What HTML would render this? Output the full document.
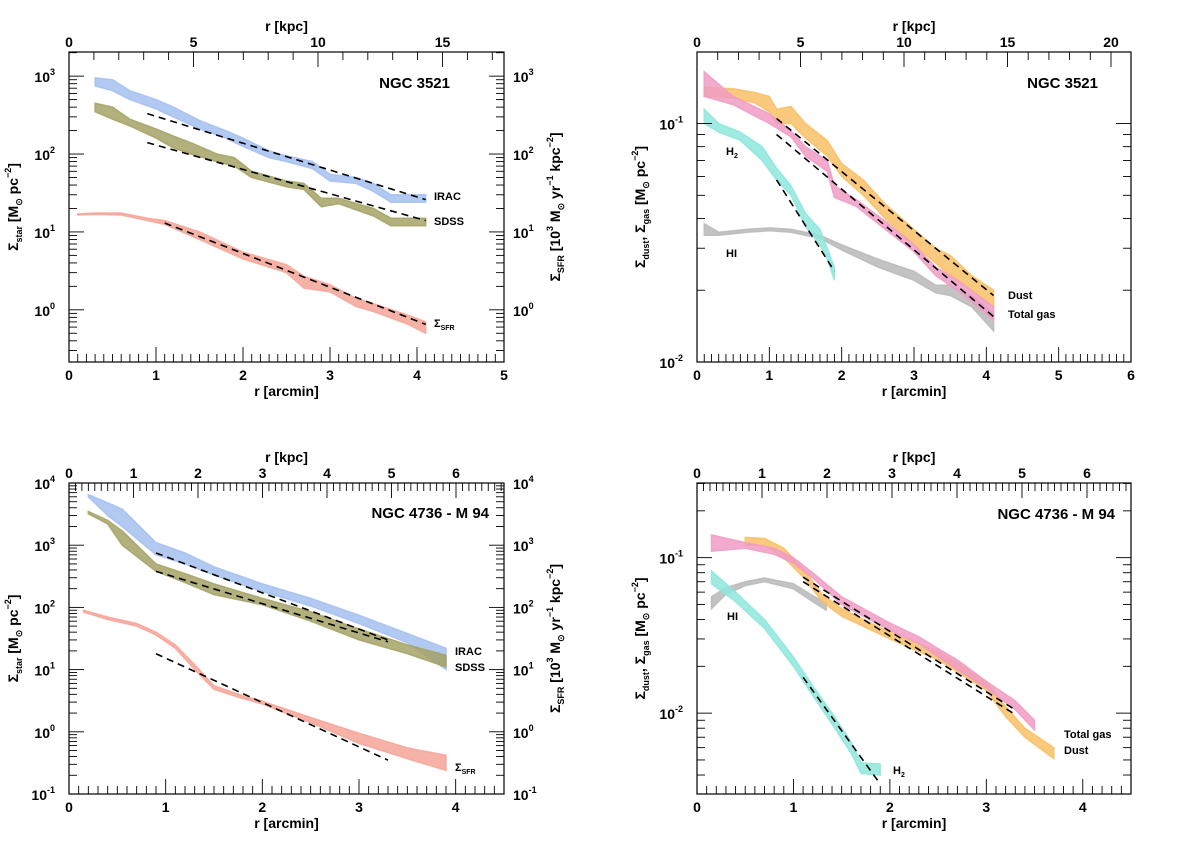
<!DOCTYPE html>
<html><head><meta charset="utf-8"><style>body{margin:0;background:#fff}svg{display:block;font-family:"Liberation Sans",sans-serif;font-weight:bold}</style></head>
<body>
<svg id="c" width="1200" height="844" viewBox="0 0 1200 844"></svg>
<script>
// ---- Panel data (r in arcmin, [upper, lower]) ----
const p1IracR=[0.3,0.5,0.7,1.0,1.2,1.5,1.8,2.0,2.3,2.5,2.8,3.0,3.3,3.5,3.7,4.1];
const p1IracHi=[950,900,650,500,400,270,200,160,110,95,80,55,50,42,30,30];
const p1IracLo=[750,650,500,380,300,210,160,125,90,80,65,45,42,33,24,24];
const p1SdssR=[0.3,0.5,0.7,1.0,1.2,1.4,1.7,1.9,2.1,2.5,2.7,2.9,3.1,3.5,3.7,4.1];
const p1SdssHi=[450,400,280,210,170,140,100,90,60,45,42,27,27,20,15,15];
const p1SdssLo=[350,280,230,160,120,100,80,70,50,38,35,21,23,16,12,12];
const p1SfrR=[0.1,0.3,0.6,0.9,1.1,1.5,2.0,2.5,2.7,3.0,3.3,3.5,3.9,4.1];
const p1SfrHi=[17,17.5,17.5,15,14,10,5.5,3.8,2.7,2.1,1.4,1.2,0.85,0.7];
const p1SfrLo=[16.5,16.8,16.5,14,12.5,8,4.5,3,1.9,1.7,1.1,0.95,0.65,0.5];
const p1Fits=[[0.9,330,4.1,26],[0.9,140,4.1,14],[1.1,13,4.1,0.65]];

const p2DustR=[0.1,0.5,0.8,1.0,1.1,1.3,1.5,1.8,2.0,2.3,2.6,3.0,3.3,3.5,3.8,4.1];
const p2DustHi=[0.142,0.14,0.135,0.13,0.115,0.118,0.1,0.085,0.068,0.058,0.046,0.036,0.03,0.028,0.023,0.02];
const p2DustLo=[0.13,0.128,0.122,0.112,0.1,0.1,0.087,0.073,0.06,0.05,0.04,0.031,0.026,0.023,0.02,0.017];
const p2GasR=[0.1,0.5,1.0,1.3,1.5,1.8,1.9,2.2,2.6,3.0,3.3,3.6,4.1];
const p2GasHi=[0.165,0.13,0.11,0.093,0.08,0.07,0.055,0.048,0.039,0.031,0.025,0.022,0.017];
const p2GasLo=[0.13,0.12,0.1,0.088,0.073,0.063,0.049,0.045,0.036,0.029,0.023,0.02,0.015];
const p2H2R=[0.1,0.3,0.6,0.9,1.1,1.3,1.5,1.7,1.8,1.9];
const p2H2Hi=[0.115,0.1,0.092,0.08,0.065,0.055,0.042,0.036,0.03,0.025];
const p2H2Lo=[0.1,0.092,0.085,0.07,0.058,0.05,0.037,0.031,0.027,0.022];
const p2HIR=[0.1,0.3,0.7,1.0,1.3,1.7,2.0,2.5,3.0,3.3,3.5,3.8,4.1];
const p2HIHi=[0.038,0.035,0.036,0.0365,0.036,0.034,0.031,0.027,0.024,0.021,0.021,0.019,0.016];
const p2HILo=[0.034,0.034,0.035,0.0355,0.035,0.033,0.0295,0.025,0.022,0.0195,0.019,0.017,0.0135];
const p2Fits=[[1.1,0.105,4.1,0.019],[1.1,0.09,4.1,0.0155],[1.1,0.058,1.9,0.024]];

const p3IracR=[0.2,0.4,0.55,0.9,1.2,1.5,2.0,2.5,3.0,3.5,3.9];
const p3IracHi=[6500,4800,3800,1100,750,450,240,140,75,38,22];
const p3IracLo=[6000,3000,2000,700,500,330,180,105,55,27,10];
const p3SdssR=[0.2,0.4,0.55,0.9,1.2,1.5,2.0,2.5,3.0,3.5,3.9];
const p3SdssHi=[3500,2500,1700,500,350,240,140,85,45,25,17];
const p3SdssLo=[3200,2200,1000,380,250,160,110,60,30,18,11];
const p3SfrR=[0.15,0.4,0.7,0.9,1.1,1.3,1.5,1.8,2.0,2.5,3.0,3.5,3.9];
const p3SfrHi=[90,70,55,40,25,12,5.5,3.8,3.1,1.7,0.95,0.55,0.42];
const p3SfrLo=[84,64,50,36,22,10,4.8,3.4,2.8,1.4,0.65,0.37,0.24];
const p3Fits=[[0.9,750,3.3,30],[0.9,380,3.3,28],[0.9,18,3.3,0.35]];

const p4GasR=[0.15,0.5,0.8,1.0,1.2,1.5,2.0,2.3,2.5,2.7,3.0,3.3,3.5];
const p4GasHi=[0.14,0.125,0.115,0.1,0.08,0.056,0.038,0.031,0.026,0.022,0.016,0.012,0.009];
const p4GasLo=[0.11,0.115,0.105,0.092,0.074,0.05,0.034,0.028,0.023,0.019,0.0145,0.0105,0.0078];
const p4DustR=[0.5,0.7,0.9,1.1,1.3,1.5,2.0,2.5,3.0,3.2,3.4,3.7];
const p4DustHi=[0.135,0.133,0.115,0.085,0.058,0.047,0.033,0.025,0.016,0.011,0.008,0.006];
const p4DustLo=[0.12,0.12,0.1,0.075,0.052,0.042,0.03,0.022,0.014,0.0095,0.007,0.0051];
const p4HIR=[0.15,0.3,0.5,0.7,1.0,1.2,1.34];
const p4HIHi=[0.056,0.064,0.07,0.074,0.068,0.057,0.051];
const p4HILo=[0.047,0.058,0.066,0.07,0.063,0.052,0.046];
const p4H2R=[0.15,0.4,0.7,1.0,1.2,1.4,1.6,1.7,1.9];
const p4H2Hi=[0.082,0.06,0.04,0.023,0.015,0.01,0.0065,0.0048,0.0047];
const p4H2Lo=[0.068,0.052,0.035,0.02,0.013,0.0085,0.0055,0.0041,0.004];
const p4Fits=[[1.1,0.075,3.3,0.0105],[1.1,0.07,3.3,0.0098],[1.1,0.017,1.9,0.0035]];

const NS="http://www.w3.org/2000/svg";
const svg=document.getElementById('c');
function el(tag,attrs,parent,txt){const e=document.createElementNS(NS,tag);for(const k in attrs)e.setAttribute(k,attrs[k]);if(txt!==undefined)e.textContent=txt;(parent||svg).appendChild(e);return e;}
function mkPanel(o){
  const g=el('g',{});
  
  
  const X=v=>o.x0+(v-o.xmin)/(o.xmax-o.xmin)*(o.x1-o.x0);
  const Y=v=>o.yTop+(o.lmax-Math.log10(v))/(o.lmax-o.lmin)*(o.yBot-o.yTop);
  o.X=X;o.Y=Y;o.g=g;return o;
}
function band(p,R,H,L,col,name){
  let d='M'+R.map((r,i)=>p.X(r).toFixed(1)+','+p.Y(H[i]).toFixed(1)).join('L');
  for(let i=R.length-1;i>=0;i--)d+='L'+p.X(R[i]).toFixed(1)+','+p.Y(L[i]).toFixed(1);
  const e=el('path',{d:d+'Z',fill:col,'fill-opacity':0.85,stroke:col,'stroke-width':1.5,'stroke-opacity':0.85},p.g);
  
  
}
function fits(p,F){F.forEach((f,i)=>{const e=el('line',{x1:p.X(f[0]),y1:p.Y(f[1]),x2:p.X(f[2]),y2:p.Y(f[3]),stroke:'#000','stroke-width':1.6,'stroke-dasharray':'7,5'},p.g);
  
  });}
function axes(p){
  const g=p.g;
  el('rect',{x:p.x0,y:p.yTop,width:p.x1-p.x0,height:p.yBot-p.yTop,fill:'none',stroke:'#000','stroke-width':1.2},g);
  for(let i=0;;i++){const v=p.xmin+i*0.1;if(v>p.xmax+1e-9)break;const x=p.X(v);const maj=Math.abs(v-Math.round(v))<1e-6;
    el('line',{x1:x,y1:p.yBot,x2:x,y2:p.yBot-(maj?15:8),stroke:'#000','stroke-width':0.9},g);
    if(maj)el('text',{x:x,y:p.yBot+18,'font-size':14,'text-anchor':'middle'},g,Math.round(v));}
  const xl=el('text',{x:(p.x0+p.x1)/2,y:p.yBot+34,'font-size':14,'text-anchor':'middle'},g,'r [arcmin]');
  
  
  const kx=v=>p.x0+v*p.kpx;
  for(let i=0;;i++){const k=i*p.kminor;const x=kx(k);if(x>p.x1+0.5)break;const maj=Math.abs(k/p.kmajor-Math.round(k/p.kmajor))<1e-6;
    el('line',{x1:x,y1:p.yTop,x2:x,y2:p.yTop+(maj?15:8),stroke:'#000','stroke-width':0.9},g);
    if(maj)el('text',{x:x,y:p.yTop-5,'font-size':14,'text-anchor':'middle'},g,Math.round(k));}
  const tl=el('text',{x:(p.x0+p.x1)/2,y:p.yTop-21,'font-size':14,'text-anchor':'middle'},g,'r [kpc]');
  
  
  for(let d=Math.floor(p.lmin);d<=Math.ceil(p.lmax);d++){for(let m=1;m<10;m++){const v=m*Math.pow(10,d);const l=Math.log10(v);if(l<p.lmin-1e-6||l>p.lmax+1e-6)continue;const y=p.Y(v);const L=m==1?15:8;
    el('line',{x1:p.x0,y1:y,x2:p.x0+L,y2:y,stroke:'#000','stroke-width':0.9},g);
    el('line',{x1:p.x1,y1:y,x2:p.x1-L,y2:y,stroke:'#000','stroke-width':0.9},g);
    if(m==1){const t=el('text',{x:p.x0-14,y:y+6,'font-size':14,'text-anchor':'end'},g);el('tspan',{},t,'10');el('tspan',{'font-size':9,dy:-7},t,String(d));
      if(p.right){const t2=el('text',{x:p.x1+9,y:y+6,'font-size':14},g);el('tspan',{},t2,'10');el('tspan',{'font-size':9,dy:-7},t2,String(d));}}}}
  const tt=el('text',{x:p.tx,y:p.ty,'font-size':15,'text-anchor':'end'},g,p.title);
  
  
}
function ylab(p,x,parts,name){const t=el('text',{transform:`translate(${x},${(p.yTop+p.yBot)/2}) rotate(-90)`,'font-size':14,'text-anchor':'middle'},p.g);
  
  
  parts.forEach(q=>{el('tspan',q[1]||{},t,q[0]);});}
function lab(p,x,y,txt,name,sub){const t=el('text',{x:x,y:y,'font-size':11},p.g,txt);if(sub)el('tspan',{'font-size':7,dy:3},t,sub);
  
  }
const SIG='\u03A3';
const ystar=[[SIG],['star',{'font-size':9,dy:4}],[' [M',{dy:-4}],['\u2299',{'font-size':9,dy:4}],[' pc',{dy:-4}],['\u22122',{'font-size':9,dy:-7}],[']',{dy:7}]];
const ysfr=[[SIG],['SFR',{'font-size':9,dy:4}],[' [10',{dy:-4}],['3',{'font-size':9,dy:-7}],[' M',{dy:7}],['\u2299',{'font-size':9,dy:4}],[' yr',{dy:-4}],['\u22121',{'font-size':9,dy:-7}],[' kpc',{dy:7}],['\u22122',{'font-size':9,dy:-7}],[']',{dy:7}]];
const ygas=[[SIG],['dust',{'font-size':9,dy:4}],[', ',{dy:-4}],[SIG],['gas',{'font-size':9,dy:4}],[' [M',{dy:-4}],['\u2299',{'font-size':9,dy:4}],[' pc',{dy:-4}],['\u22122',{'font-size':9,dy:-7}],[']',{dy:7}]];
const C={irac:'#a4c0ee',sdss:'#a4a265',sfr:'#f6a498',dust:'#f8c066',gas:'#f09cc4',h2:'#8ee6dc',hi:'#b8b8b8'};

const p1=mkPanel({name:'panel-ngc3521-stars',x0:69,x1:504,yTop:52,yBot:362,xmin:0,xmax:5,lmin:-0.67,lmax:3.31,kpx:24.9,kminor:1,kmajor:5,right:true,title:'NGC 3521',tx:450,ty:88});
band(p1,p1SfrR,p1SfrHi,p1SfrLo,C.sfr,'sfr-band');band(p1,p1SdssR,p1SdssHi,p1SdssLo,C.sdss,'sdss-band');band(p1,p1IracR,p1IracHi,p1IracLo,C.irac,'irac-band');
fits(p1,p1Fits);axes(p1);ylab(p1,18,ystar,'y-axis-title');ylab(p1,560,ysfr,'y2-axis-title');
lab(p1,434,200,'IRAC','label-irac');lab(p1,434,225,'SDSS','label-sdss');lab(p1,434,327,SIG,'label-sfr','SFR');

const p2=mkPanel({name:'panel-ngc3521-gas',x0:697,x1:1131,yTop:52,yBot:362,xmin:0,xmax:6,lmin:-2,lmax:-0.70,kpx:20.7,kminor:1,kmajor:5,right:false,title:'NGC 3521',tx:1098,ty:88});
band(p2,p2HIR,p2HIHi,p2HILo,C.hi,'hi-band');band(p2,p2H2R,p2H2Hi,p2H2Lo,C.h2,'h2-band');band(p2,p2DustR,p2DustHi,p2DustLo,C.dust,'dust-band');band(p2,p2GasR,p2GasHi,p2GasLo,C.gas,'gas-band');
fits(p2,p2Fits);axes(p2);ylab(p2,645,ygas,'y-axis-title');
lab(p2,726,155,'H','label-h2','2');lab(p2,726,257,'HI','label-hi');lab(p2,1008,299,'Dust','label-dust');lab(p2,1008,318,'Total gas','label-total-gas');

const p3=mkPanel({name:'panel-m94-stars',x0:69,x1:504,yTop:483,yBot:794,xmin:0,xmax:4.5,lmin:-1,lmax:4,kpx:64.5,kminor:0.1,kmajor:1,right:true,title:'NGC 4736 - M 94',tx:489,ty:518});
band(p3,p3SfrR,p3SfrHi,p3SfrLo,C.sfr,'sfr-band');band(p3,p3IracR,p3IracHi,p3IracLo,C.irac,'irac-band');band(p3,p3SdssR,p3SdssHi,p3SdssLo,C.sdss,'sdss-band');
fits(p3,p3Fits);axes(p3);ylab(p3,18,ystar,'y-axis-title');ylab(p3,560,ysfr,'y2-axis-title');
lab(p3,455,655,'IRAC','label-irac');lab(p3,455,671,'SDSS','label-sdss');lab(p3,455,771,SIG,'label-sfr','SFR');

const p4=mkPanel({name:'panel-m94-gas',x0:697,x1:1131,yTop:483,yBot:794,xmin:0,xmax:4.5,lmin:-2.52,lmax:-0.52,kpx:65,kminor:0.1,kmajor:1,right:false,title:'NGC 4736 - M 94',tx:1115,ty:519});
band(p4,p4HIR,p4HIHi,p4HILo,C.hi,'hi-band');band(p4,p4H2R,p4H2Hi,p4H2Lo,C.h2,'h2-band');band(p4,p4DustR,p4DustHi,p4DustLo,C.dust,'dust-band');band(p4,p4GasR,p4GasHi,p4GasLo,C.gas,'gas-band');
fits(p4,p4Fits);axes(p4);ylab(p4,645,ygas,'y-axis-title');
lab(p4,727,620,'HI','label-hi');lab(p4,1064,738,'Total gas','label-total-gas');lab(p4,1064,754,'Dust','label-dust');lab(p4,893,774,'H','label-h2','2');
</script>
</body></html>
